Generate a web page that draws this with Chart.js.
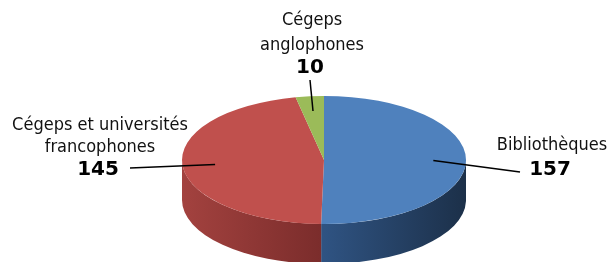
<!DOCTYPE html>
<html>
<head>
<meta charset="utf-8">
<script src="https://cdn.jsdelivr.net/npm/chart.js@4/dist/chart.umd.min.js"></script>
<style>
  html, body { margin: 0; padding: 0; background: #fff; }
  #wrap { width: 610px; height: 262px; position: relative; }
</style>
</head>
<body>
<div id="wrap"><canvas id="pie"></canvas></div>
<script>
const labels = ["Bibliothèques", "Cégeps et universités francophones", "Cégeps anglophones"];
const values = [157, 145, 10];
const topColors = ["#4F81BD", "#C0504D", "#9BBB59"];
const sideColors = [["#2F5382", "#1C3049"], ["#A3423F", "#7A2C2B"], ["#7D9846", "#6A823A"]];

// where the ellipse goes on the page
const cx = 324, cy = 160, rx = 142, ry = 64, depth = 40;

// text blocks: lines, line centres, leader end
const labelText = [
  { lines: ["Bibliothèques"], x: 552, ys: [145], num: 170, lineEnd: [520, 172] },
  { lines: ["Cégeps et universités", "francophones"], x: 100, ys: [125, 147], num: 170, lineEnd: [130, 168] },
  { lines: ["Cégeps", "anglophones"], x: 312, ys: [20, 45], num: 68, lineEnd: [310, 80] }
];

const pie3d = {
  id: "pie3d",
  beforeDatasetsDraw(chart) {
    const ctx = chart.ctx;
    const arcs = chart.getDatasetMeta(0).data;
    // sides, front half only (canvas angles 0..PI)
    arcs.forEach((el, i) => {
      let a1 = el.startAngle, a2 = el.endAngle;
      const TAU = Math.PI * 2;
      while (a1 < 0) { a1 += TAU; a2 += TAU; }
      const ranges = [[a1, a2], [a1 - TAU, a2 - TAU], [a1 + TAU, a2 + TAU]];
      ranges.forEach(([s, e]) => {
        const s2 = Math.max(s, 0), e2 = Math.min(e, Math.PI);
        if (e2 <= s2) return;
        const g = ctx.createLinearGradient(cx - rx, 0, cx + rx, 0);
        if (i === 0) {
          g.addColorStop(0.5, sideColors[i][0]);
          g.addColorStop(1, sideColors[i][1]);
        } else {
          g.addColorStop(0, sideColors[i][0]);
          g.addColorStop(0.5, sideColors[i][1]);
        }
        ctx.save();
        ctx.beginPath();
        ctx.ellipse(cx, cy, rx, ry, 0, s2, e2, false);
        ctx.ellipse(cx, cy + depth, rx, ry, 0, e2, s2, true);
        ctx.closePath();
        ctx.fillStyle = g;
        ctx.fill();
        ctx.restore();
      });
    });
    // flatten the top face into the ellipse
    const el = arcs[0];
    ctx.save();
    ctx.translate(cx, cy);
    ctx.scale(rx / el.outerRadius, ry / el.outerRadius);
    ctx.translate(-el.x, -el.y);
  },
  afterDatasetsDraw(chart) {
    const ctx = chart.ctx;
    ctx.restore();
    const arcs = chart.getDatasetMeta(0).data;
    ctx.save();
    ctx.textAlign = "center";
    ctx.textBaseline = "middle";
    arcs.forEach((el, i) => {
      const t = labelText[i];
      const mid = (el.startAngle + el.endAngle) / 2;
      const px = cx + Math.cos(mid) * rx * 0.77;
      const py = cy + Math.sin(mid) * ry * 0.77;
      ctx.beginPath();
      ctx.moveTo(px, py);
      ctx.lineTo(t.lineEnd[0], t.lineEnd[1]);
      ctx.lineWidth = 1.5;
      ctx.strokeStyle = "#000";
      ctx.stroke();
      ctx.fillStyle = "#111";
      ctx.font = '18px "DejaVu Sans Condensed", "DejaVu Sans", sans-serif';
      t.lines.forEach((ln, k) => ctx.fillText(ln, t.x, t.ys[k]));
      ctx.font = 'bold 20px "DejaVu Sans", sans-serif';
      ctx.fillStyle = "#000";
      ctx.fillText(String(values[i]), t.x - 2, t.num);
    });
    ctx.restore();
  }
};

new Chart(document.getElementById("pie"), {
  type: "pie",
  data: {
    labels,
    datasets: [{
      data: values,
      backgroundColor: topColors,
      borderWidth: 0
    }]
  },
  options: {
    responsive: true,
    maintainAspectRatio: false,
    animation: false,
    events: [],
    layout: { padding: 0 },
    plugins: {
      legend: { display: false },
      tooltip: { enabled: false }
    }
  },
  plugins: [pie3d]
});
</script>
</body>
</html>
